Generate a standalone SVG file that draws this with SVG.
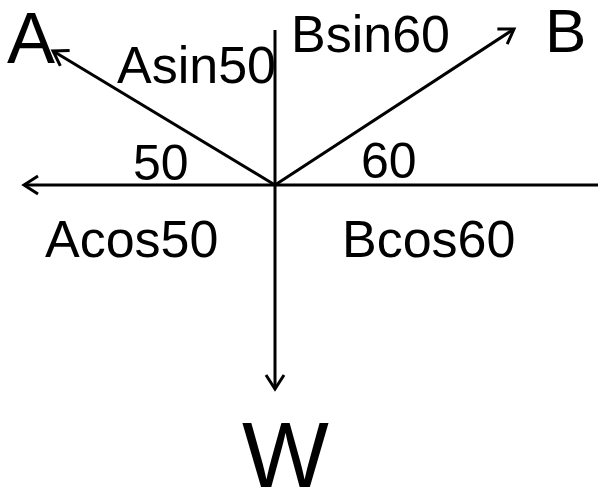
<svg xmlns="http://www.w3.org/2000/svg" width="598" height="492" viewBox="0 0 598 492">
<style>
.ln{stroke:#000;stroke-width:3;fill:none}
.t{font-family:"Liberation Sans",Arial,sans-serif;fill:#000}
</style>
<defs>
<marker id="ah" markerUnits="userSpaceOnUse" viewBox="-18 -12 22 24" markerWidth="22" markerHeight="24" refX="0" refY="0" orient="auto" overflow="visible">
<path d="M-14,-9 L0,0 L-14,9" fill="none" stroke="#000" stroke-width="3"/>
</marker>
</defs>
<rect width="598" height="492" fill="#fff"/>
<g id="connectors">
<line class="ln" x1="275" y1="185" x2="24" y2="185" marker-end="url(#ah)"/>
<line class="ln" x1="275" y1="185" x2="598" y2="185"/>
<line class="ln" x1="275" y1="30" x2="275" y2="389" marker-end="url(#ah)"/>
<line class="ln" x1="275" y1="185" x2="53" y2="51" marker-end="url(#ah)"/>
<line class="ln" x1="275" y1="185" x2="514" y2="29" marker-end="url(#ah)"/>
</g>
<g id="labels">
<text id="A" class="t" x="7" y="63" font-size="72">A</text>
<text id="B" class="t" x="545" y="52" font-size="62">B</text>
<text id="W" class="t" x="242" y="487" font-size="92">W</text>
<text id="Asin50" class="t" x="117" y="83" font-size="52">Asin50</text>
<text id="Bsin60" class="t" x="291" y="52" font-size="52">Bsin60</text>
<text id="a50" class="t" x="133" y="180" font-size="50">50</text>
<text id="a60" class="t" x="361" y="178" font-size="50">60</text>
<text id="Acos50" class="t" x="45" y="257" font-size="52">Acos50</text>
<text id="Bcos60" class="t" x="342" y="257" font-size="52">Bcos60</text>
</g>
</svg>
